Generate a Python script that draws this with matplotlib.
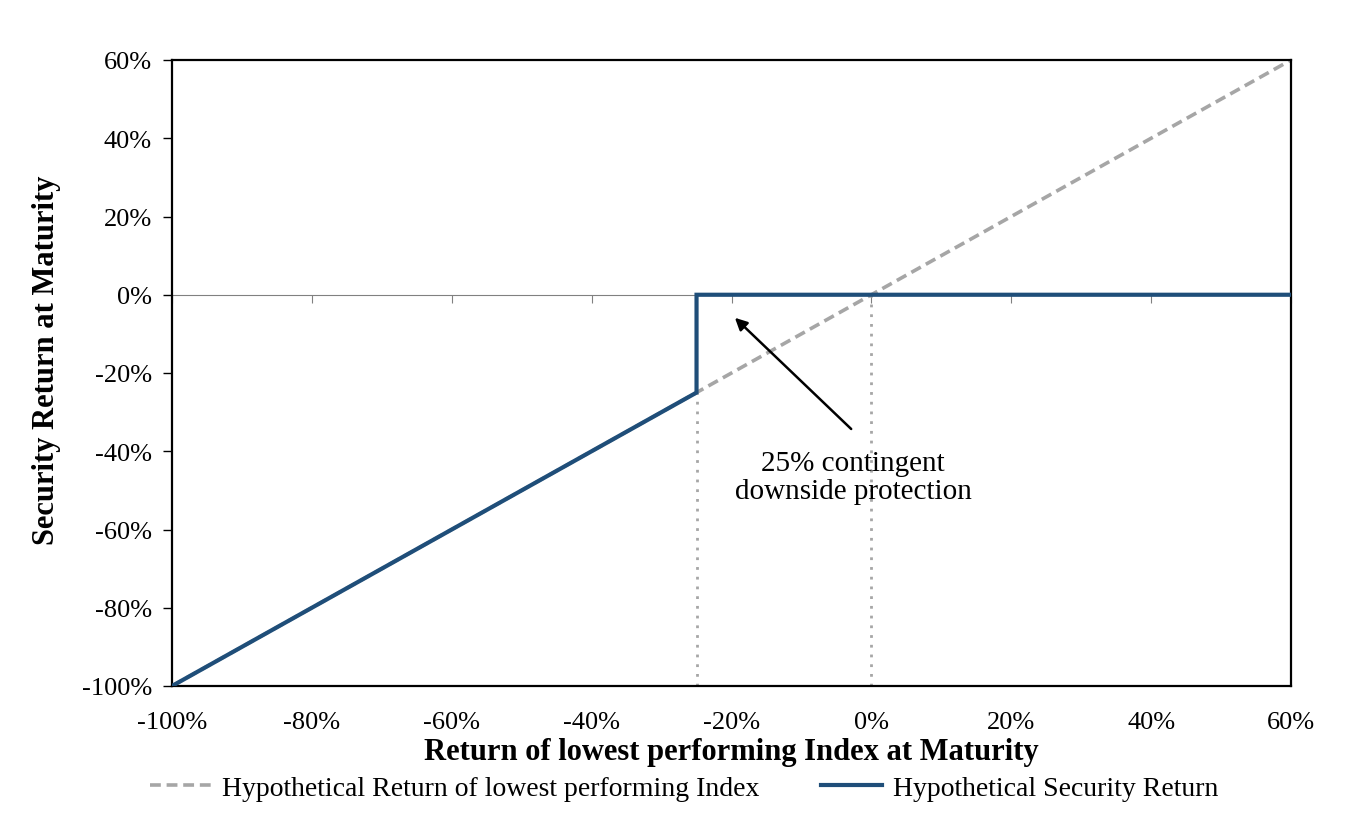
import numpy as np
import matplotlib
matplotlib.use('Agg')
import matplotlib.pyplot as plt
from matplotlib.ticker import PercentFormatter

# 数据
index_x = [-100, 60]
index_y = [-100, 60]
security_x = [-100, -25, -25, 60]
security_y = [-100, -25, 0, 0]
barrier = -25
xticks = [-100, -80, -60, -40, -20, 0, 20, 40, 60]
yticks = [-100, -80, -60, -40, -20, 0, 20, 40, 60]

plt.rcParams['font.family'] = ['Liberation Serif', 'DejaVu Serif']
plt.rcParams['axes.unicode_minus'] = False

fig = plt.figure(figsize=(13.68, 8.2), dpi=100)
ax = fig.add_axes([172 / 1368, 1 - 687 / 820, 1119 / 1368, 626 / 820])

blue = '#1F4E79'
grey = '#A6A6A6'

# 参考虚线
ax.plot([barrier, barrier], [-100, barrier], ls=(0, (1, 2.5)), c=grey, lw=2)
ax.plot([0, 0], [-100, 0], ls=(0, (1, 2.5)), c=grey, lw=2)
ax.axhline(0, c='#808080', lw=0.8, zorder=1)

l1, = ax.plot(index_x, index_y, c=grey, lw=2.6, ls=(0, (3, 1.6)),
              label='Hypothetical Return of lowest performing Index', zorder=2)
l2, = ax.plot(security_x, security_y, c=blue, lw=3,
              label='Hypothetical Security Return', zorder=3, solid_joinstyle='miter')

# 注释
ax.annotate('', xy=(-19.8, -5.4), xytext=(-2.6, -34.8),
            arrowprops=dict(arrowstyle='-|>', color='black', lw=1.8, mutation_scale=18))
ax.text(-2.6, -46.5, '25% contingent\ndownside protection', ha='center', va='center',
        fontsize=21, linespacing=1.1)

ax.set_xlim(-100, 60)
ax.set_ylim(-100, 60)
ax.set_xticks(xticks)
ax.set_yticks(yticks)
ax.xaxis.set_major_formatter(PercentFormatter(decimals=0))
ax.yaxis.set_major_formatter(PercentFormatter(decimals=0))
ax.tick_params(axis='x', length=0, labelsize=19, pad=18)
ax.tick_params(axis='y', length=6.5, width=1, direction='out', labelsize=19, pad=8)
for s in ax.spines.values():
    s.set_linewidth(1.6)

# 0% 处的横轴刻度
sec = ax.secondary_xaxis(100 / 160)
sec.set_xticks(xticks)
sec.set_xticklabels([])
sec.xaxis.set_ticks_position('bottom')
sec.tick_params(axis='x', length=6, width=0.8, color='#808080', direction='out')
sec.spines['bottom'].set_visible(False)
sec.spines['top'].set_visible(False)

ax.set_xlabel('Return of lowest performing Index at Maturity', fontsize=22, fontweight='bold', va='center')
ax.xaxis.set_label_coords(0.5, -(753 - 687) / 626)
ax.set_ylabel('Security Return at Maturity', fontsize=22, fontweight='bold', va='center')
ax.yaxis.set_label_coords(-(172 - 47) / 1119, (687 - 360) / 626)

fig.legend(handles=[l1, l2], loc='center', bbox_to_anchor=(0.5, 1 - 789 / 820), ncol=2,
           frameon=False, fontsize=20, handlelength=2.2, handletextpad=0.4, columnspacing=2.2)

fig.savefig('out.png', dpi=100, facecolor='white')
